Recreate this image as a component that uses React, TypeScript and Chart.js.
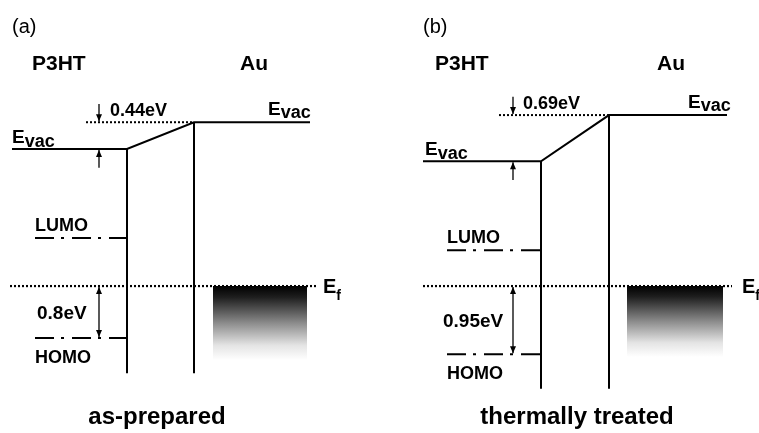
import React, { useEffect, useRef } from 'react';
import { Chart, registerables } from 'chart.js';

Chart.register(...registerables);

// ---------- Data: energy levels (eV, relative to the Fermi level) ----------
const panelTags = ['(a)', '(b)'];
const conditions = ['as-prepared', 'thermally treated'];
const materials = ['P3HT', 'Au'];
const fermiLevel = [0, 0];
const evacP3HT = [2.11, 1.92];
const evacAu = [2.52, 2.63];
const lumoLevel = [0.74, 0.55];
const homoLevel = [-0.8, -1.05];
const auBandBottom = [-1.14, -1.09];
const interfaceBottom = [-1.34, -1.58];
const dipoleLabels = ['0.44eV', '0.69eV'];
const barrierLabels = ['0.8eV', '0.95eV'];

// ---------- Data: positions along the diagram (arbitrary distance units) ----------
const p3htStart = [12, 423];
const orbitalStart = [35, 447];
const vacRefStart = [86, 499];
const p3htEnd = [127, 541];
const auStart = [194, 609];
const auEnd = [310, 727];
const fermiStart = [10, 423];
const fermiEnd = [316, 732];
const bandStart = [213, 627];
const bandEnd = [307, 723];
const arrowAt = [99, 513];

const FONT = '"Liberation Sans", Arial, Helvetica, sans-serif';
const Y_MIN = -2.26;
const Y_MAX = 4.4;

// label anchors (layout)
const LAYOUT = {
  tagX: [12, 423],
  headP3HTX: [32, 435],
  headAuX: [240, 657],
  evacAuX: [268, 688],
  dipoleX: [110, 523],
  evacP3HTX: [12, 425],
  lumoX: [35, 447],
  barrierX: [37, 443],
  homoX: [35, 447],
  efX: [323, 742],
  captionX: [157, 577],
  tagE: 3.89,
  headE: 3.32,
  captionE: -2.12,
};

const pt = (x: number, y: number) => ({ x, y });

function buildDatasets() {
  const ds: any[] = [];
  for (let i = 0; i < 2; i++) {
    // Au occupied band (gradient)
    ds.push({
      data: [pt(bandStart[i], fermiLevel[i]), pt(bandEnd[i], fermiLevel[i])],
      borderWidth: 0,
      borderColor: 'rgba(0,0,0,0)',
      pointRadius: 0,
      fill: { value: auBandBottom[i] },
      backgroundColor: (c: any) => {
        const chart = c.chart;
        const ys = chart.scales && chart.scales.y;
        if (!ys || !chart.chartArea) return '#555';
        const top = ys.getPixelForValue(fermiLevel[i]);
        const bot = ys.getPixelForValue(auBandBottom[i]);
        if (!Number.isFinite(top) || !Number.isFinite(bot)) return '#555';
        const g = chart.ctx.createLinearGradient(0, top, 0, bot);
        g.addColorStop(0, '#000');
        g.addColorStop(0.15, '#1e1e1e');
        g.addColorStop(0.5, '#8c8c8c');
        g.addColorStop(0.8, '#e4e4e4');
        g.addColorStop(1, '#ffffff');
        return g;
      },
    });
    // Vacuum level polyline: P3HT -> interface dipole -> Au
    ds.push({
      data: [
        pt(p3htStart[i], evacP3HT[i]),
        pt(p3htEnd[i], evacP3HT[i]),
        pt(auStart[i], evacAu[i]),
        pt(auEnd[i], evacAu[i]),
      ],
      borderColor: '#000',
      borderWidth: 2,
      pointRadius: 0,
      fill: false,
      borderJoinStyle: 'miter',
    });
    // Interface vertical lines
    ds.push({
      data: [pt(p3htEnd[i], evacP3HT[i]), pt(p3htEnd[i], interfaceBottom[i])],
      borderColor: '#000',
      borderWidth: 2,
      pointRadius: 0,
      fill: false,
    });
    ds.push({
      data: [pt(auStart[i], evacAu[i]), pt(auStart[i], interfaceBottom[i])],
      borderColor: '#000',
      borderWidth: 2,
      pointRadius: 0,
      fill: false,
    });
    // Reference dotted line for Au vacuum level
    ds.push({
      data: [pt(vacRefStart[i], evacAu[i]), pt(auStart[i], evacAu[i])],
      borderColor: '#000',
      borderWidth: 2,
      borderDash: [2, 2],
      pointRadius: 0,
      fill: false,
    });
    // LUMO / HOMO (dash-dot)
    ds.push({
      data: [pt(orbitalStart[i], lumoLevel[i]), pt(p3htEnd[i], lumoLevel[i])],
      borderColor: '#000',
      borderWidth: 2,
      borderDash: [19, 7, 3, 8],
      pointRadius: 0,
      fill: false,
    });
    ds.push({
      data: [pt(orbitalStart[i], homoLevel[i]), pt(p3htEnd[i], homoLevel[i])],
      borderColor: '#000',
      borderWidth: 2,
      borderDash: [19, 7, 3, 8],
      pointRadius: 0,
      fill: false,
    });
    // Fermi level (dotted)
    ds.push({
      data: [pt(fermiStart[i], fermiLevel[i]), pt(fermiEnd[i], fermiLevel[i])],
      borderColor: '#000',
      borderWidth: 2.2,
      borderDash: [2, 2],
      pointRadius: 0,
      fill: false,
    });
  }
  return ds;
}

function drawHead(ctx: CanvasRenderingContext2D, x: number, yTip: number, dir: number) {
  ctx.beginPath();
  ctx.moveTo(x, yTip);
  ctx.lineTo(x - 3, yTip - dir * 7);
  ctx.lineTo(x + 3, yTip - dir * 7);
  ctx.closePath();
  ctx.fill();
}

function drawArrow(ctx: CanvasRenderingContext2D, x: number, y0: number, y1: number, both: boolean) {
  ctx.beginPath();
  ctx.lineWidth = 1.3;
  ctx.setLineDash([]);
  ctx.moveTo(x, y0);
  ctx.lineTo(x, y1);
  ctx.stroke();
  const dir = y1 > y0 ? 1 : -1;
  drawHead(ctx, x, y1, dir);
  if (both) drawHead(ctx, x, y0, -dir);
}

function text(ctx: CanvasRenderingContext2D, s: string, x: number, y: number, size: number, bold: boolean, align: CanvasTextAlign = 'left') {
  ctx.font = `${bold ? 'bold ' : ''}${size}px ${FONT}`;
  ctx.textAlign = align;
  ctx.textBaseline = 'alphabetic';
  ctx.fillText(s, x, y);
  return ctx.measureText(s).width;
}

function sub(ctx: CanvasRenderingContext2D, main: string, subs: string, x: number, y: number, size: number, subSize: number, drop: number) {
  const w = text(ctx, main, x, y, size, true);
  text(ctx, subs, x + w, y + drop, subSize, true);
}

const annotationPlugin = {
  id: 'diagramAnnotations',
  afterDatasetsDraw(chart: any) {
    const { ctx, scales } = chart;
    const xs = scales.x;
    const ys = scales.y;
    const px = (v: number) => xs.getPixelForValue(v);
    const py = (v: number) => ys.getPixelForValue(v);
    ctx.save();
    ctx.fillStyle = '#000';
    ctx.strokeStyle = '#000';
    for (let i = 0; i < 2; i++) {
      const ax = px(arrowAt[i]);
      // interface dipole arrows
      drawArrow(ctx, ax, py(evacAu[i] + 0.28), py(evacAu[i]) - 1, false);
      drawArrow(ctx, ax, py(evacP3HT[i] - 0.29), py(evacP3HT[i]) + 1, false);
      // hole injection barrier
      drawArrow(ctx, ax, py(fermiLevel[i]) + 1, py(homoLevel[i]) - 1, true);

      // labels
      text(ctx, panelTags[i], px(LAYOUT.tagX[i]), py(LAYOUT.tagE), 20, false);
      text(ctx, materials[0], px(LAYOUT.headP3HTX[i]), py(LAYOUT.headE), 21, true);
      text(ctx, materials[1], px(LAYOUT.headAuX[i]), py(LAYOUT.headE), 21, true);
      sub(ctx, 'E', 'vac', px(LAYOUT.evacAuX[i]), py(evacAu[i]) - 7, 19, 18, 3);
      sub(ctx, 'E', 'vac', px(LAYOUT.evacP3HTX[i]), py(evacP3HT[i]) - 6, 19, 18, 4);
      text(ctx, dipoleLabels[i], px(LAYOUT.dipoleX[i]), py(evacAu[i]) - 6, 18, true);
      text(ctx, 'LUMO', px(LAYOUT.lumoX[i]), py(lumoLevel[i]) - 7, 18, true);
      text(ctx, 'HOMO', px(LAYOUT.homoX[i]), py(homoLevel[i]) + 25, 18, true);
      const mid = (py(fermiLevel[i]) + py(homoLevel[i])) / 2;
      text(ctx, barrierLabels[i], px(LAYOUT.barrierX[i]), mid + 7, 19, true);
      sub(ctx, 'E', 'f', px(LAYOUT.efX[i]), py(fermiLevel[i]) + 7, 20, 14, 7);
      text(ctx, conditions[i], px(LAYOUT.captionX[i]), py(LAYOUT.captionE), 24, true, 'center');
    }
    ctx.restore();
  },
};

export default function App() {
  const ref = useRef<HTMLCanvasElement>(null);
  useEffect(() => {
    if (!ref.current) return;
    const chart = new Chart(ref.current, {
      type: 'line',
      data: { datasets: buildDatasets() },
      options: {
        animation: false,
        responsive: false,
        maintainAspectRatio: false,
        devicePixelRatio: 1,
        layout: { padding: 0 },
        events: [],
        plugins: {
          legend: { display: false },
          tooltip: { enabled: false },
          title: { display: false },
        },
        scales: {
          x: { type: 'linear', min: 0, max: 759, display: false },
          y: { type: 'linear', min: Y_MIN, max: Y_MAX, display: false },
        },
      },
      plugins: [annotationPlugin],
    } as any);
    return () => chart.destroy();
  }, []);
  return (
    <div style={{ position: 'fixed', left: 0, top: 0, width: 759, height: 433, background: '#fff' }}>
      <canvas ref={ref} width={759} height={433} style={{ display: 'block', width: 759, height: 433 }} />
    </div>
  );
}
